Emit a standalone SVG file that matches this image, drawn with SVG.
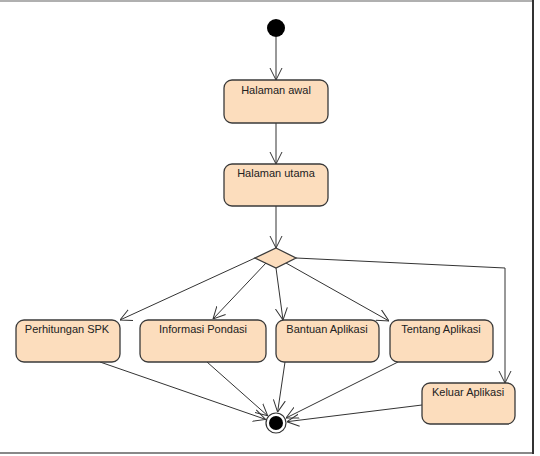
<svg xmlns="http://www.w3.org/2000/svg" width="540" height="456" viewBox="0 0 540 456">
<defs>
<marker id="open" viewBox="0 0 12 14" refX="12" refY="7" markerWidth="12" markerHeight="14" markerUnits="userSpaceOnUse" orient="auto">
<path d="M0,1 L12,7 L0,13" fill="none" stroke="#333" stroke-width="1"/>
</marker>
<style>
.node rect, .node polygon { fill:#FCDDBD; stroke:#3a3a3a; stroke-width:1.3; }
.node text { font-family:"Liberation Sans", Arial, sans-serif; font-size:11px; fill:#222; text-anchor:middle; }
.conn path, .conn line, .conn polyline { fill:none; stroke:#333; stroke-width:1; marker-end:url(#open); }
</style>
</defs>
<rect x="0" y="0" width="540" height="456" fill="#fff"/>
<g id="frame">
<line x1="0" y1="1" x2="534" y2="1" stroke="#b0b0b0" stroke-width="2"/>
<line x1="0" y1="453" x2="534" y2="453" stroke="#888" stroke-width="2"/>
<line x1="533" y1="0" x2="533" y2="454" stroke="#333" stroke-width="2"/>
</g>
<g class="conn" id="connectors">
<line x1="276" y1="37" x2="276" y2="80"/>
<line x1="276" y1="123" x2="276" y2="164"/>
<line x1="276" y1="206" x2="276" y2="248"/>
<line x1="255" y1="258" x2="120" y2="320"/>
<line x1="266" y1="263" x2="213" y2="319"/>
<line x1="276" y1="268" x2="283" y2="320"/>
<line x1="286" y1="263" x2="389" y2="321"/>
<polyline points="296,258 505,268 505,383"/>
<line x1="100" y1="362" x2="265.6" y2="419.4"/>
<line x1="207" y1="362" x2="267.7" y2="415.8"/>
<line x1="285" y1="362" x2="277.6" y2="412.1"/>
<line x1="398" y1="362" x2="286" y2="418"/>
<line x1="422" y1="405" x2="287" y2="421.7"/>
</g>
<g id="start"><circle cx="276" cy="28" r="9" fill="#000"/></g>
<g class="node" id="halaman-awal"><rect x="224" y="80" width="104" height="43" rx="8"/><text x="276" y="94">Halaman awal</text></g>
<g class="node" id="halaman-utama"><rect x="224" y="164" width="104" height="42" rx="8"/><text x="276" y="177">Halaman utama</text></g>
<g class="node" id="decision"><polygon points="276,248 296,258 276,268 255,258"/></g>
<g class="node" id="perhitungan"><rect x="16" y="320" width="104" height="42" rx="8"/><text x="67" y="333">Perhitungan SPK</text></g>
<g class="node" id="informasi"><rect x="140" y="320" width="126" height="42" rx="8"/><text x="203" y="333">Informasi Pondasi</text></g>
<g class="node" id="bantuan"><rect x="276" y="320" width="103" height="42" rx="8"/><text x="327" y="333">Bantuan Aplikasi</text></g>
<g class="node" id="tentang"><rect x="390" y="320" width="103" height="42" rx="8"/><text x="441" y="333">Tentang Aplikasi</text></g>
<g class="node" id="keluar"><rect x="422" y="383" width="93" height="41" rx="8"/><text x="468" y="396">Keluar Aplikasi</text></g>
<g id="end"><circle cx="276" cy="423" r="10" fill="#fff" stroke="#333" stroke-width="1.2"/><circle cx="276" cy="423" r="7" fill="#000"/></g>
</svg>
